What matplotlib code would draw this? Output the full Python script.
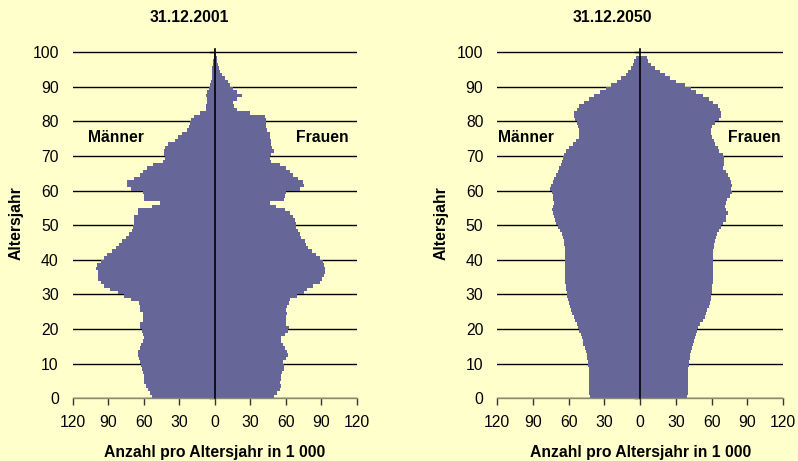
import matplotlib
matplotlib.use('Agg')
import matplotlib.pyplot as plt
import numpy as np

plt.rcParams['font.family'] = ['Liberation Sans', 'DejaVu Sans']

# Alter 0..100
ages = np.arange(0, 101)

# 31.12.2001, in 1000
m_2001 = [53.4, 55.0, 56.5, 58.5, 59.5, 59.6, 60.0, 60.4, 61.5, 62.3,
          63.0, 64.3, 64.6, 65.0, 63.5, 62.0, 60.4, 59.8, 60.4, 61.8,
          63.5, 63.0, 61.0, 60.4, 61.0, 63.0, 62.8, 64.3, 71.0, 77.0,
          81.5, 88.5, 93.5, 96.0, 98.3, 98.3, 98.9, 100.3, 99.2, 96.0,
          93.5, 91.0, 87.0, 83.4, 80.9, 78.7, 75.0, 72.5, 70.2, 68.8,
          68.3, 68.0, 68.0, 65.2, 64.6, 53.4, 46.3, 59.6, 59.8, 60.4,
          70.8, 73.9, 73.9, 68.0, 63.2, 60.4, 57.6, 52.0, 43.5, 42.1,
          42.7, 42.7, 42.1, 39.3, 34.0, 31.5, 27.8, 23.9, 21.6, 20.8,
          20.2, 17.4, 12.6, 7.9, 7.3, 7.0, 7.0, 7.3, 6.7, 5.0,
          3.9, 3.4, 2.8, 2.5, 2.2, 2.0, 1.7, 1.4, 1.1, 0.8, 0.4]
f_2001 = [49.7, 52.8, 54.8, 56.2, 55.3, 55.6, 55.6, 56.7, 58.1, 58.4,
          57.9, 60.4, 61.8, 61.2, 59.0, 57.9, 55.6, 56.2, 59.0, 61.8,
          62.4, 60.4, 60.4, 59.8, 60.7, 60.4, 61.0, 62.4, 63.2, 69.4,
          75.0, 78.0, 82.9, 88.5, 90.4, 91.9, 92.7, 92.7, 92.1, 91.3,
          88.5, 85.7, 82.3, 78.7, 77.2, 75.8, 73.0, 71.6, 70.2, 68.3,
          68.8, 68.0, 66.0, 63.2, 59.0, 52.0, 46.3, 58.4, 59.0, 60.4,
          71.6, 75.0, 74.4, 70.2, 66.0, 63.2, 60.4, 54.8, 47.8, 46.3,
          47.2, 50.0, 48.3, 47.2, 47.8, 46.3, 46.3, 44.4, 43.5, 43.5,
          43.5, 42.1, 30.0, 18.3, 16.3, 15.7, 19.1, 22.5, 19.1, 15.4,
          12.9, 10.7, 8.4, 6.2, 4.5, 3.7, 2.8, 2.0, 1.4, 0.8, 0.4]

# 31.12.2050, in 1000
m_2050 = [42.2, 42.8, 42.8, 42.8, 42.8, 42.8, 42.8, 42.8, 42.8, 43.4,
          43.9, 44.5, 45.0, 45.9, 46.7, 47.6, 48.4, 49.2, 50.1, 51.2,
          52.3, 53.4, 54.8, 55.7, 57.1, 58.2, 59.3, 60.1, 60.7, 61.3,
          61.8, 62.4, 62.7, 62.9, 63.2, 63.2, 63.2, 63.2, 63.2, 63.2,
          63.2, 63.2, 63.2, 63.5, 63.8, 64.0, 64.6, 66.0, 67.4, 68.8,
          70.8, 71.3, 72.2, 73.0, 74.1, 73.0, 72.4, 73.0, 73.6, 74.4,
          75.8, 75.0, 73.6, 72.2, 70.8, 69.1, 68.0, 66.9, 65.7, 65.2,
          63.8, 62.4, 59.6, 56.2, 54.0, 51.5, 51.2, 51.2, 52.0, 53.4,
          54.8, 55.4, 55.4, 53.4, 51.2, 47.3, 42.8, 38.9, 33.8, 28.8,
          24.1, 19.3, 15.7, 12.3, 10.1, 7.3, 5.9, 5.0, 3.6, 0.0, 0.0]
f_2050 = [39.0, 40.3, 40.3, 40.3, 40.3, 40.3, 40.3, 40.3, 40.3, 40.8,
          41.2, 41.7, 42.2, 43.0, 43.5, 44.5, 45.0, 45.9, 46.7, 47.6,
          48.7, 50.6, 52.9, 54.5, 55.5, 56.3, 57.6, 58.5, 59.3, 59.6,
          60.1, 60.4, 60.7, 61.0, 61.3, 61.3, 61.3, 61.3, 61.3, 61.3,
          61.3, 61.3, 61.3, 61.8, 62.0, 62.7, 63.5, 64.6, 66.3, 68.0,
          69.6, 71.9, 72.0, 74.1, 71.9, 71.0, 72.0, 73.0, 75.2, 77.5,
          76.6, 77.5, 76.6, 75.2, 73.8, 72.0, 69.6, 70.2, 70.5, 70.2,
          70.0, 66.5, 65.5, 63.0, 61.8, 60.7, 59.9, 59.9, 60.7, 62.7,
          66.3, 68.3, 68.3, 66.9, 65.5, 61.3, 57.6, 52.9, 47.3, 43.0,
          37.5, 30.5, 24.9, 20.7, 16.5, 12.3, 9.5, 6.5, 5.9, 0.0, 0.0]

titles = ['31.12.2001', '31.12.2050']
xticks = [-120, -90, -60, -30, 0, 30, 60, 90, 120]
xticklabels = ['120', '90', '60', '30', '0', '30', '60', '90', '120']
yticks = list(range(0, 101, 10))

bg = '#FFFFCC'
barcol = '#666699'
fs = 11.3

fig = plt.figure(figsize=(7.98, 4.61), dpi=100, facecolor=bg)

panels = [
    dict(rect=[0.0911, 0.136, 0.3563, 0.7582], m=m_2001, f=f_2001,
         title=titles[0], tx=0.2375, mx=-107, fx=113),
    dict(rect=[0.6232, 0.136, 0.358, 0.7582], m=m_2050, f=f_2050,
         title=titles[1], tx=0.767, mx=-119.4, fx=117.8),
]

for p in panels:
    ax = fig.add_axes(p['rect'])
    ax.set_facecolor(bg)
    ax.barh(ages, -np.array(p['m']), height=1, align='edge',
            color=barcol, linewidth=0, zorder=2)
    ax.barh(ages, p['f'], height=1, align='edge',
            color=barcol, linewidth=0, zorder=2)
    ax.set_xlim(-120, 120)
    ax.set_ylim(0, 101)

    # horizontale Gitterlinien
    ax.set_yticks(yticks)
    ax.grid(axis='y', color='black', linewidth=1)
    ax.set_axisbelow(True)
    ax.get_ygridlines()[0].set_visible(False)

    # senkrechte Achse in der Mitte
    ax.spines['left'].set_position(('data', 0))
    ax.spines['left'].set_color('black')
    ax.spines['left'].set_linewidth(1.2)
    ax.spines['left'].set_zorder(3)
    ax.spines['right'].set_visible(False)
    ax.spines['top'].set_visible(False)
    ax.spines['bottom'].set_color('#8a8a70')
    ax.spines['bottom'].set_linewidth(1)
    ax.tick_params(axis='y', direction='out', length=4, width=1,
                   color='black', labelleft=False)

    ax.set_xticks(xticks)
    ax.set_xticklabels(xticklabels, fontsize=fs)
    ax.tick_params(axis='x', direction='out', length=5, width=1,
                   color='#333333', pad=7)
    ax.set_xlabel('Anzahl pro Altersjahr in 1 000', fontsize=fs,
                  fontweight='bold', labelpad=11)

    sec = ax.secondary_yaxis(0.0)
    sec.set_yticks(yticks)
    sec.tick_params(length=0, pad=10, labelsize=fs)
    sec.spines['left'].set_visible(False)
    sec.set_ylabel('Altersjahr', fontsize=fs, fontweight='bold', labelpad=6)

    ax.text(p['mx'], 75.3, 'Männer', ha='left', va='center',
            fontsize=fs, fontweight='bold')
    ax.text(p['fx'], 75.3, 'Frauen', ha='right', va='center',
            fontsize=fs, fontweight='bold')

    fig.text(p['tx'], 0.963, p['title'], ha='center', va='center',
             fontsize=fs, fontweight='bold')

fig.savefig('out.png', dpi=100, facecolor=bg)
